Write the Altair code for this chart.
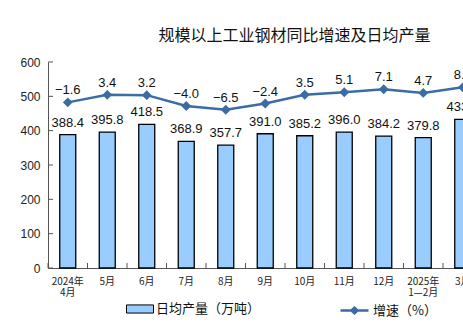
import altair as alt
import pandas as pd

categories = ["2024年\n4月", "5月", "6月", "7月", "8月", "9月", "10月", "11月", "12月", "2025年\n1—2月", "3月"]
output = [388.4, 395.8, 418.5, 368.9, 357.7, 391.0, 385.2, 396.0, 384.2, 379.8, 433.1]
growth = [-1.6, 3.4, 3.2, -4.0, -6.5, -2.4, 3.5, 5.1, 7.1, 4.7, 8.4]
y_ticks = [0, 100, 200, 300, 400, 500, 600]

BAR_NAME = "日均产量（万吨）"
LINE_NAME = "增速（%）"

df = pd.DataFrame({"cat": categories, "output": output, "growth": growth,
                   "s1": BAR_NAME, "s2": LINE_NAME})
ticks_df = pd.DataFrame({"v": y_ticks})

BAR_FILL = "#99CCFF"
LINE_COLOR = "#3B6CA3"
NUM_FONT = "Liberation Sans"
CJK_FONT = "Noto Sans CJK SC"

xscale = alt.Scale(domain=categories, range=[0, 434.5], paddingInner=0, paddingOuter=0)
y0 = alt.Scale(domain=[0, 600], nice=False, zero=False)
y1 = alt.Scale(domain=[-112, 25.3], nice=False, zero=False)

x_axis = alt.Axis(title=None, labelAngle=0, ticks=False, labelPadding=8,
                  labelFont=CJK_FONT, labelFontSize=10, labelColor="#222",
                  labelExpr="split(datum.label, '\\n')", labelLineHeight=11.5,
                  domainColor="#555", grid=False)
y_axis = alt.Axis(title=None, values=y_ticks, ticks=False, labelPadding=8,
                  labelFont=NUM_FONT, labelFontSize=12, labelColor="#222",
                  domainColor="#555", grid=False)

base = alt.Chart(df)

bars = base.mark_bar(width=16, stroke="black", strokeWidth=1.3).encode(
    x=alt.X("cat:N", scale=xscale, axis=x_axis, sort=categories),
    y=alt.Y("output:Q", scale=y0, axis=y_axis),
    fill=alt.Fill("s1:N", scale=alt.Scale(domain=[BAR_NAME], range=[BAR_FILL]),
                  legend=alt.Legend(title=None, orient="none", legendX=78, legendY=233,
                                    symbolType="M-1,-0.3H1V0.3H-1Z", symbolSize=729,
                                    symbolStrokeColor="black", symbolStrokeWidth=1,
                                    labelFont=CJK_FONT, labelFontSize=13, labelColor="#111",
                                    labelOffset=2, padding=0)),
)

bar_text = base.mark_text(font=NUM_FONT, fontSize=13, baseline="alphabetic", dy=-8, color="#111").encode(
    x=alt.X("cat:N", scale=xscale, sort=categories),
    y=alt.Y("output:Q", scale=y0, axis=None),
    text=alt.Text("output:Q", format=".1f"),
)

line = base.mark_line(strokeWidth=2.5, point=alt.OverlayMarkDef(shape="diamond", size=50, filled=True, color=LINE_COLOR)).encode(
    x=alt.X("cat:N", scale=xscale, sort=categories),
    y=alt.Y("growth:Q", scale=y1, axis=None),
    stroke=alt.Stroke("s2:N", scale=alt.Scale(domain=[LINE_NAME], range=[LINE_COLOR]),
                      legend=alt.Legend(title=None, orient="none", legendX=291, legendY=233,
                                        symbolType="M-1,0H1M-0.22,0L0,-0.2L0.22,0L0,0.2Z",
                                        symbolSize=784, symbolStrokeWidth=2.5,
                                        symbolFillColor=LINE_COLOR,
                                        labelFont=CJK_FONT, labelFontSize=13, labelColor="#111",
                                        labelOffset=3, padding=0)),
)

line_text = base.mark_text(font=NUM_FONT, fontSize=13, baseline="alphabetic", dy=-8, color="#111").encode(
    x=alt.X("cat:N", scale=xscale, sort=categories),
    y=alt.Y("growth:Q", scale=y1, axis=None),
    text=alt.Text("growth:Q", format=".1f"),
)

x_tick_marks = base.mark_rule(color="#555", strokeWidth=1).encode(
    x=alt.X("cat:N", scale=xscale, sort=categories, bandPosition=0),
    y=alt.value(201),
    y2=alt.value(206),
)

y_tick_marks = alt.Chart(ticks_df).mark_rule(color="#555", strokeWidth=1).encode(
    y=alt.Y("v:Q", scale=y0, axis=None),
    x=alt.value(0),
    x2=alt.value(5),
)

chart = alt.layer(bars, bar_text, x_tick_marks, y_tick_marks, line, line_text).resolve_scale(
    y="independent"
).properties(
    width=415,
    height=206,
    autosize=alt.AutoSizeParams(type="none"),
    padding={"left": 48, "top": 62, "right": 0, "bottom": 58},
    title=alt.Title("规模以上工业钢材同比增速及日均产量", font=CJK_FONT, fontSize=16,
                    fontWeight="normal", color="#111", anchor="middle", frame="group",
                    dx=39, offset=12),
).configure_view(stroke=None)

chart.save("out.html", embed_options={"renderer": "svg", "actions": False})
